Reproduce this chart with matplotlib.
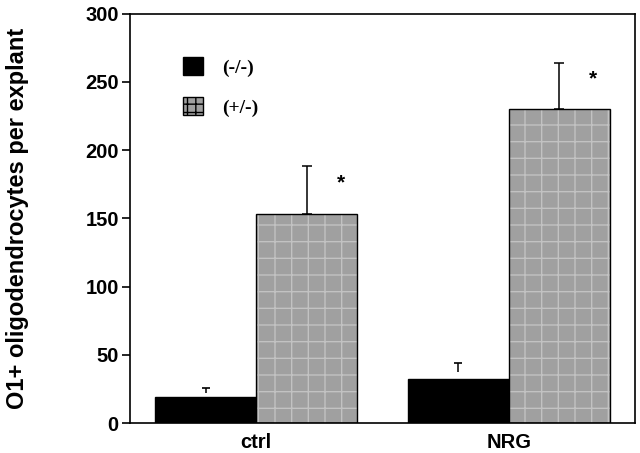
import numpy as np
import matplotlib as mpl
mpl.use('Agg')
import matplotlib.pyplot as plt
from matplotlib.patches import Patch

groups = ['ctrl', 'NRG']
genotypes = ['(-/-)', '(+/-)']
mean_ko = [19, 32]
err_ko = [7, 12]
mean_het = [153, 230]
err_het = [35, 34]
signif = ['*', '*']

plt.rcParams['font.family'] = ['Liberation Sans', 'DejaVu Sans']
plt.rcParams['hatch.color'] = '#c2c2c2'
plt.rcParams['hatch.linewidth'] = 1.0

fig = plt.figure(figsize=(6.4, 4.53), dpi=100)
ax = fig.add_axes([0.203, 0.066, 0.789, 0.904])

x = np.arange(len(groups))
w = 0.4
gray = '#a0a0a0'

ax.bar(x - w/2, mean_ko, w, color='black', edgecolor='black', linewidth=1, zorder=2)
ax.bar(x + w/2, mean_het, w, color=gray, edgecolor='#c2c2c2', linewidth=0, hatch='+', zorder=2)
ax.bar(x + w/2, mean_het, w, fill=False, edgecolor='black', linewidth=1.0, zorder=3)

# small floating "T" above the black bars
ko_top = np.array(mean_ko) + np.array(err_ko)
ax.errorbar(x - w/2, ko_top, yerr=[np.array(err_ko) * 0.55, np.zeros(len(x))], fmt='none',
            ecolor='black', elinewidth=1.1, capsize=0, zorder=3)
ax.hlines(ko_top, x - w/2 - 0.016, x - w/2 + 0.016, color='black', linewidth=1.2, zorder=3)
ax.errorbar(x + w/2, mean_het, yerr=[np.zeros(len(x)), err_het], fmt='none',
            ecolor='black', elinewidth=1.1, capsize=3.6, capthick=1.1, zorder=1)

for i in range(len(x)):
    ax.text(x[i] + w/2 + 0.135, mean_het[i] + err_het[i] - 12, signif[i],
            ha='center', va='center', fontsize=15, fontweight='bold')

ax.set_xlim(-0.5, 1.5)
ax.set_ylim(0, 300)
ax.set_yticks([0, 50, 100, 150, 200, 250, 300])
ax.set_xticks(x)
ax.set_xticklabels(groups, fontsize=14.5, fontweight='bold')
ax.tick_params(axis='x', length=0, pad=7)
ax.tick_params(axis='y', direction='out', length=6, width=1.2, labelsize=14.5, pad=2)
for lab in ax.get_yticklabels():
    lab.set_fontweight('bold')
for s in ax.spines.values():
    s.set_linewidth(1.2)

ax.set_ylabel('O1+ oligodendrocytes per explant', fontsize=17, fontweight='bold')
ax.yaxis.set_label_coords(-0.2, 0.5)

handles = [Patch(facecolor='black', edgecolor='black'),
           Patch(facecolor=gray, edgecolor='black', hatch='++')]
leg = fig.legend(handles, genotypes, loc='upper left', bbox_to_anchor=(183/640, 1 - 57/453),
                 frameon=False, borderpad=0, borderaxespad=0, handlelength=1.05,
                 handleheight=1.05, handletextpad=0.95, labelspacing=1.05,
                 prop={'family': 'Liberation Serif', 'weight': 'bold', 'size': 14})

plt.savefig('out.png', dpi=100)
